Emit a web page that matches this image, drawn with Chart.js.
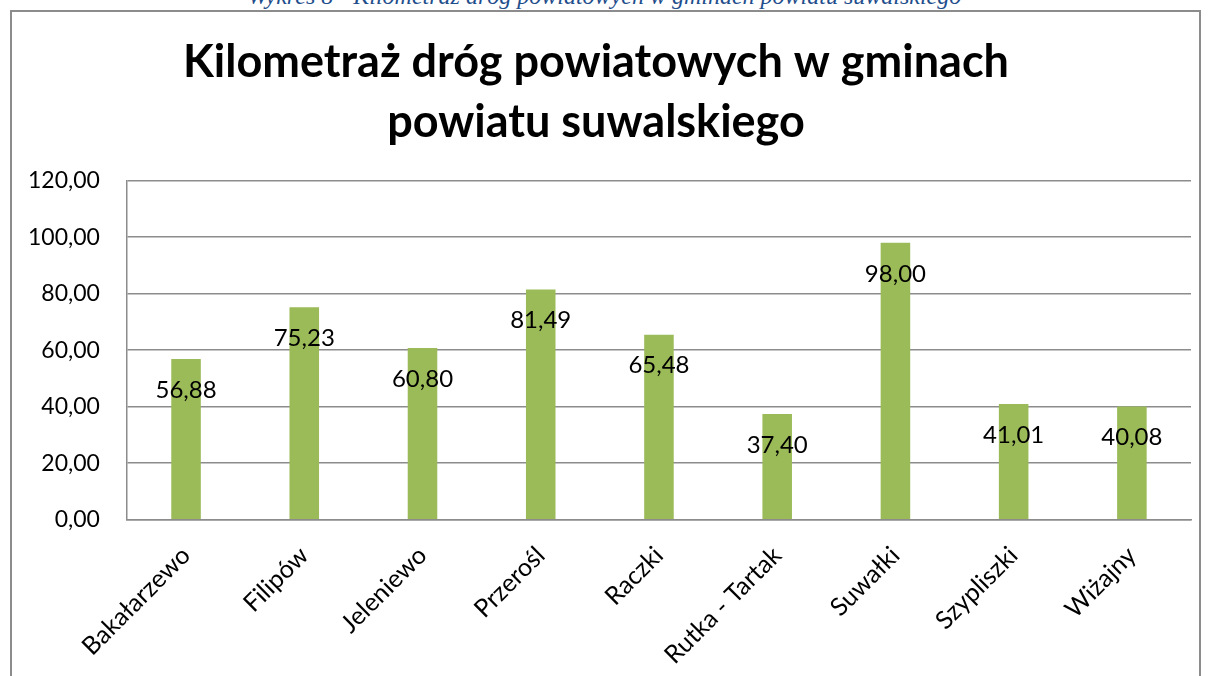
<!DOCTYPE html>
<html>
<head>
<meta charset="utf-8">
<script src="https://cdn.jsdelivr.net/npm/chart.js@4"></script>
<style>
  html, body { margin: 0; padding: 0; background: #fff; overflow: hidden; }
  #wrap { position: relative; width: 1209px; height: 676px; overflow: hidden; }
  #caption {
    position: absolute; left: 0; width: 1209px; top: -17px; text-align: center;
    font-family: "Liberation Serif", serif; font-style: italic; font-size: 24px;
    color: #1f4e8c;
  }
  #frame {
    position: absolute; left: 10px; top: 10px; width: 1187px; height: 700px;
    border: 2px solid #8c8c8c;
  }
  canvas { position: absolute; left: 0; top: 0; }
</style>
</head>
<body>
<div id="wrap">
  <div id="caption">Wykres 8 - Kilometraż dróg powiatowych w gminach powiatu suwalskiego</div>
  <div id="frame"></div>
  <canvas id="c" width="1209" height="691"></canvas>
</div>
<script>
// gminy
const gminy = ['Bakałarzewo', 'Filipów', 'Jeleniewo', 'Przerośl', 'Raczki', 'Rutka - Tartak', 'Suwałki', 'Szypliszki', 'Wiżajny']
// km drog powiatowych
const km = [56.88, 75.23, 60.80, 81.49, 65.48, 37.40, 98.00, 41.01, 40.08]
const tytul = ['Kilometraż dróg powiatowych w gminach', 'powiatu suwalskiego']

const fmt = v => Number(v).toFixed(2).replace('.', ',')

// etykiety wartosci w slupkach
const etykiety = {
    id: 'etykiety',
    afterDatasetsDraw(chart) {
        const ctx = chart.ctx
        ctx.save()
        ctx.font = '24px Lato'
        ctx.fillStyle = '#000'
        ctx.textAlign = 'center'
        ctx.textBaseline = 'middle'
        chart.getDatasetMeta(0).data.forEach((bar, i) => {
            ctx.fillText(fmt(km[i]), bar.x, bar.y + 31)
        })
        ctx.restore()
    }
}

new Chart(document.getElementById('c'), {
    type: 'bar',
    data: {
        labels: gminy,
        datasets: [{
            label: 'km',
            data: km,
            backgroundColor: '#9bbb59',
            barPercentage: 0.5,
            categoryPercentage: 0.5
        }]
    },
    options: {
        responsive: false,
        animation: false,
        layout: { padding: { left: 1, right: 18, top: 14, bottom: 0 } },
        plugins: {
            legend: { display: false },
            tooltip: { enabled: false },
            title: {
                display: true,
                text: tytul,
                color: '#000',
                font: { family: 'Lato', size: 45, weight: 'bold', lineHeight: 1.33 },
                padding: { top: 19, bottom: 28 }
            }
        },
        scales: {
            y: {
                min: 0, max: 120,
                ticks: {
                    stepSize: 20, color: '#000', padding: 27,
                    font: { family: 'Lato', size: 23 },
                    callback: v => fmt(v)
                },
                grid: { color: '#8c8c8c', lineWidth: 1.5, drawTicks: false },
                border: { color: '#8c8c8c', width: 1.5 }
            },
            x: {
                ticks: {
                    color: '#000', minRotation: 45, maxRotation: 45, padding: 21,
                    font: { family: 'Lato', size: 25 }
                },
                grid: { display: false, drawTicks: false },
                border: { color: '#8c8c8c', width: 1.5 }
            }
        }
    },
    plugins: [etykiety]
})
</script>
</body>
</html>
